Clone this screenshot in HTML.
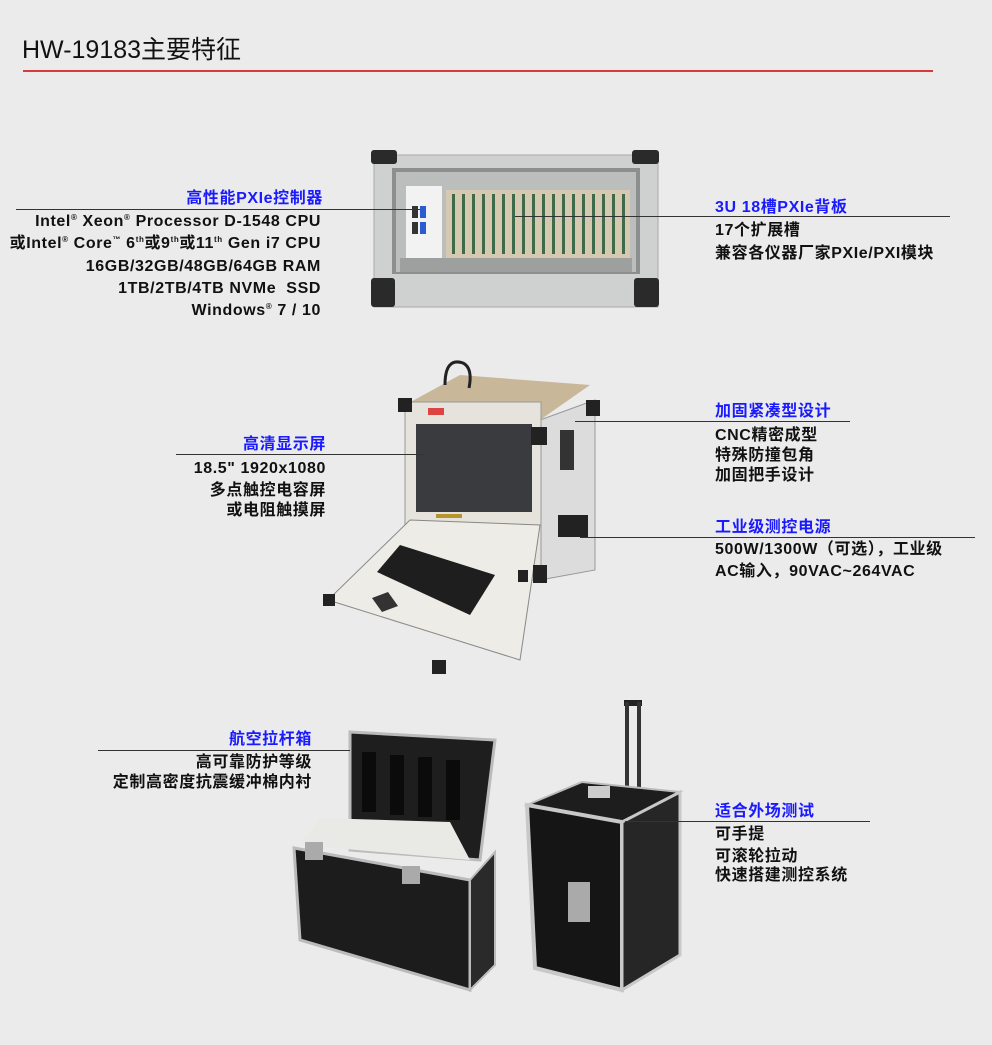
<!DOCTYPE html>
<html><head><meta charset="utf-8"><style>
html,body{margin:0;padding:0}
body{width:992px;height:1045px;background:#ebebeb;position:relative;overflow:hidden;font-family:"Liberation Sans","Noto Sans CJK SC",sans-serif}
.t{position:absolute;font-weight:bold;font-size:16px;letter-spacing:0.6px;color:#111;white-space:nowrap;line-height:20px}
.b{color:#1a1aff}
.r{text-align:right}
.ln{position:absolute;height:1px;background:#333}
sup{font-size:8px;line-height:0;vertical-align:6px}
svg{position:absolute;left:0;top:0}
</style></head><body>
<div class="t" style="left:22px;top:34px;font-size:25px;font-weight:normal;letter-spacing:0;line-height:32px;color:#111">HW-19183主要特征</div>
<div style="position:absolute;left:23px;top:70px;width:910px;height:2px;background:#d93a3a"></div>

<svg width="992" height="1045" viewBox="0 0 992 1045">
 <rect x="374" y="155" width="284" height="152" fill="#cfd0d0" stroke="#aaa"/>
 <rect x="392" y="168" width="248" height="106" fill="#8d8f8f"/>
 <rect x="396" y="172" width="240" height="100" fill="#bcbdbd"/>
 <rect x="406" y="186" width="36" height="72" fill="#f2f2f2"/>
 <rect x="412" y="206" width="6" height="12" fill="#333"/><rect x="420" y="206" width="6" height="12" fill="#2a5bd0"/>
 <rect x="412" y="222" width="6" height="12" fill="#333"/><rect x="420" y="222" width="6" height="12" fill="#2a5bd0"/>
 <rect x="446" y="190" width="184" height="68" fill="#d6c9b0"/>
 <g fill="#3d6a4a">
 <rect x="452" y="194" width="3" height="60"/><rect x="462" y="194" width="3" height="60"/><rect x="472" y="194" width="3" height="60"/><rect x="482" y="194" width="3" height="60"/><rect x="492" y="194" width="3" height="60"/><rect x="502" y="194" width="3" height="60"/><rect x="512" y="194" width="3" height="60"/><rect x="522" y="194" width="3" height="60"/><rect x="532" y="194" width="3" height="60"/><rect x="542" y="194" width="3" height="60"/><rect x="552" y="194" width="3" height="60"/><rect x="562" y="194" width="3" height="60"/><rect x="572" y="194" width="3" height="60"/><rect x="582" y="194" width="3" height="60"/><rect x="592" y="194" width="3" height="60"/><rect x="602" y="194" width="3" height="60"/><rect x="612" y="194" width="3" height="60"/><rect x="622" y="194" width="3" height="60"/></g>
 <rect x="400" y="258" width="232" height="14" fill="#9ea0a0"/>
 <g fill="#2a2a2a"><rect x="371" y="150" width="26" height="14" rx="3"/><rect x="632" y="150" width="27" height="14" rx="3"/><rect x="371" y="278" width="24" height="29" rx="3"/><rect x="634" y="278" width="25" height="29" rx="3"/></g>

 <polygon points="405,405 460,375 590,385 540,420" fill="#c9b79a"/>
 <path d="M445,385 q0,-28 18,-22 q10,5 6,25" stroke="#222" stroke-width="3" fill="none"/>
 <polygon points="540,420 595,400 595,570 540,580" fill="#dcdcdc" stroke="#999"/>
 <rect x="560" y="430" width="14" height="40" fill="#333"/>
 <rect x="558" y="515" width="30" height="22" fill="#222"/>
 <rect x="405" y="402" width="136" height="178" fill="#e6e3dc" stroke="#999"/>
 <rect x="416" y="424" width="116" height="88" fill="#3a3b3e"/>
 <rect x="428" y="408" width="16" height="7" fill="#d44"/>
 <rect x="436" y="514" width="26" height="4" fill="#b8952a"/>
 <polygon points="410,520 540,525 520,660 328,600" fill="#eeece6" stroke="#888"/>
 <polygon points="377,572 400,545 495,575 470,615" fill="#1e1e1e"/>
 <polygon points="372,598 388,592 398,606 382,612" fill="#333"/>
 <g fill="#222"><rect x="398" y="398" width="14" height="14"/><rect x="531" y="427" width="16" height="18"/><rect x="586" y="400" width="14" height="16"/><rect x="533" y="565" width="14" height="18"/><rect x="323" y="594" width="12" height="12"/><rect x="432" y="660" width="14" height="14"/><rect x="518" y="570" width="10" height="12"/></g>

 <polygon points="350,732 495,740 480,860 350,850" fill="#1e1e1e" stroke="#bbb" stroke-width="3"/>
 <g fill="#0b0b0b"><rect x="362" y="752" width="14" height="60"/><rect x="390" y="755" width="14" height="60"/><rect x="418" y="757" width="14" height="60"/><rect x="446" y="760" width="14" height="60"/></g>
 <polygon points="300,845 320,818 450,822 470,860" fill="#e9e9e6"/>
 <polygon points="294,848 470,880 470,990 300,940" fill="#1c1c1c" stroke="#bbb" stroke-width="3"/>
 <polygon points="470,880 495,852 495,965 470,990" fill="#2a2a2a" stroke="#bbb" stroke-width="2"/>
 <rect x="305" y="842" width="18" height="18" fill="#aaa"/><rect x="402" y="866" width="18" height="18" fill="#aaa"/>

 <rect x="624" y="700" width="18" height="6" fill="#222"/>
 <rect x="625" y="702" width="4" height="98" fill="#333"/><rect x="637" y="702" width="4" height="98" fill="#333"/>
 <polygon points="527,805 582,782 680,792 622,822" fill="#1d1d1d" stroke="#bbb" stroke-width="2"/>
 <rect x="588" y="786" width="22" height="12" fill="#ccc"/>
 <polygon points="527,805 622,822 622,990 535,968" fill="#151515" stroke="#c8c8c8" stroke-width="4"/>
 <polygon points="622,822 680,792 680,955 622,990" fill="#262626" stroke="#c8c8c8" stroke-width="3"/>
 <rect x="568" y="882" width="22" height="40" fill="#aaa"/>
</svg>

<div class="t b r" style="right:669px;top:189px">高性能PXIe控制器</div>
<div class="ln" style="left:16px;top:209px;width:404px"></div>
<div class="t r" style="right:671px;top:212px">Intel<sup>®</sup> Xeon<sup>®</sup> Processor D-1548 CPU</div>
<div class="t r" style="right:671px;top:234px">或Intel<sup>®</sup> Core<sup>™</sup> 6<sup>th</sup>或9<sup>th</sup>或11<sup>th</sup> Gen i7 CPU</div>
<div class="t r" style="right:671px;top:257px">16GB/32GB/48GB/64GB RAM</div>
<div class="t r" style="right:671px;top:279px">1TB/2TB/4TB NVMe&nbsp; SSD</div>
<div class="t r" style="right:671px;top:301px">Windows<sup>®</sup> 7 / 10</div>

<div class="t b" style="left:715px;top:198px">3U 18槽PXIe背板</div>
<div class="ln" style="left:515px;top:216px;width:435px"></div>
<div class="t" style="left:715px;top:221px">17个扩展槽</div>
<div class="t" style="left:715px;top:244px">兼容各仪器厂家PXIe/PXI模块</div>

<div class="t b r" style="right:666px;top:435px">高清显示屏</div>
<div class="ln" style="left:176px;top:454px;width:249px"></div>
<div class="t r" style="right:666px;top:459px">18.5" 1920x1080</div>
<div class="t r" style="right:666px;top:481px">多点触控电容屏</div>
<div class="t r" style="right:666px;top:501px">或电阻触摸屏</div>

<div class="t b" style="left:715px;top:402px">加固紧凑型设计</div>
<div class="ln" style="left:575px;top:421px;width:275px"></div>
<div class="t" style="left:715px;top:426px">CNC精密成型</div>
<div class="t" style="left:715px;top:446px">特殊防撞包角</div>
<div class="t" style="left:715px;top:466px">加固把手设计</div>

<div class="t b" style="left:715px;top:518px">工业级测控电源</div>
<div class="ln" style="left:580px;top:537px;width:395px"></div>
<div class="t" style="left:715px;top:540px">500W/1300W（可选），工业级</div>
<div class="t" style="left:715px;top:562px">AC输入，90VAC~264VAC</div>

<div class="t b r" style="right:680px;top:730px">航空拉杆箱</div>
<div class="ln" style="left:98px;top:750px;width:252px"></div>
<div class="t r" style="right:680px;top:753px">高可靠防护等级</div>
<div class="t r" style="right:680px;top:773px">定制高密度抗震缓冲棉内衬</div>

<div class="t b" style="left:715px;top:802px">适合外场测试</div>
<div class="ln" style="left:625px;top:821px;width:245px"></div>
<div class="t" style="left:715px;top:825px">可手提</div>
<div class="t" style="left:715px;top:847px">可滚轮拉动</div>
<div class="t" style="left:715px;top:866px">快速搭建测控系统</div>
</body></html>
